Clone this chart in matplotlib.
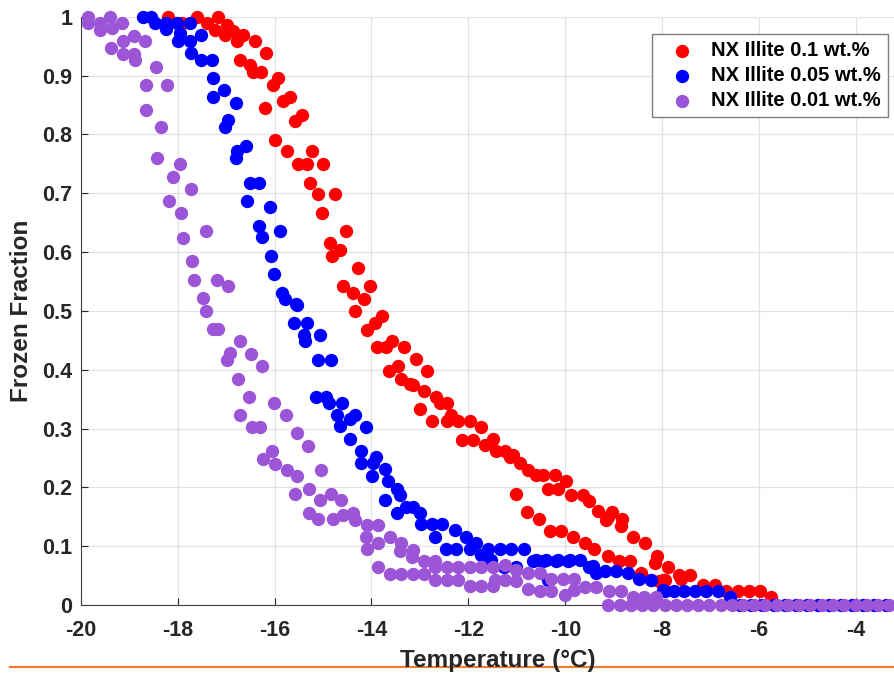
import numpy as np
import matplotlib
matplotlib.use('agg')
import matplotlib.pyplot as plt
from matplotlib.lines import Line2D

plt.rcParams['font.family'] = ['Liberation Sans', 'DejaVu Sans']
plt.rcParams['font.weight'] = 'bold'
plt.rcParams['axes.unicode_minus'] = False

# NX Illite 0.1 wt.%
temp_01 = [-18.19, -17.90, -17.61, -17.40, -17.23, -17.16, -17.03, -16.99, -16.85, -16.78,
           -16.72, -16.65, -16.51, -16.44, -16.41, -16.27, -16.20, -16.18, -16.03, -15.99,
           -15.93, -15.82, -15.75, -15.68, -15.58, -15.51, -15.44, -15.34, -15.27, -15.22,
           -15.10, -15.03, -15.00, -14.86, -14.81, -14.76, -14.64, -14.59, -14.52, -14.39,
           -14.34, -14.28, -14.16, -14.10, -14.04, -13.93, -13.88, -13.79, -13.69, -13.64,
           -13.57, -13.45, -13.38, -13.33, -13.21, -13.14, -13.09, -12.99, -12.92, -12.85,
           -12.74, -12.67, -12.59, -12.44, -12.44, -12.35, -12.21, -12.14, -11.97, -11.90,
           -11.73, -11.66, -11.49, -11.42, -11.25, -11.15, -11.08, -11.01, -10.94, -10.78,
           -10.77, -10.60, -10.55, -10.46, -10.36, -10.31, -10.22, -10.15, -10.08, -9.98,
           -9.88, -9.84, -9.64, -9.60, -9.50, -9.40, -9.33, -9.15, -9.12, -9.12,
           -9.04, -8.89, -8.85, -8.83, -8.66, -8.61, -8.43, -8.35, -8.23, -8.14,
           -8.11, -8.07, -7.99, -7.95, -7.88, -7.66, -7.61, -7.42, -7.16, -6.92,
           -6.68, -6.44, -6.21, -5.99, -5.75]
frac_01 = [1.000, 0.990, 1.000, 0.989, 0.978, 1.000, 0.969, 0.986, 0.975, 0.958,
           0.926, 0.969, 0.918, 0.906, 0.958, 0.906, 0.844, 0.938, 0.884, 0.790,
           0.895, 0.856, 0.771, 0.864, 0.822, 0.750, 0.833, 0.750, 0.718, 0.771,
           0.698, 0.666, 0.750, 0.615, 0.593, 0.698, 0.603, 0.542, 0.635, 0.531,
           0.500, 0.572, 0.520, 0.467, 0.542, 0.480, 0.438, 0.491, 0.438, 0.397,
           0.449, 0.406, 0.385, 0.438, 0.376, 0.374, 0.418, 0.334, 0.364, 0.397,
           0.312, 0.354, 0.343, 0.344, 0.312, 0.323, 0.312, 0.280, 0.313, 0.280,
           0.303, 0.272, 0.283, 0.261, 0.261, 0.252, 0.255, 0.188, 0.241, 0.158,
           0.229, 0.221, 0.146, 0.221, 0.198, 0.126, 0.221, 0.198, 0.126, 0.210,
           0.187, 0.116, 0.187, 0.106, 0.176, 0.095, 0.159, 0.144, 0.083, 0.150,
           0.158, 0.074, 0.134, 0.147, 0.074, 0.115, 0.054, 0.106, 0.042, 0.071,
           0.083, 0.040, 0.042, 0.042, 0.065, 0.051, 0.044, 0.051, 0.034, 0.034,
           0.023, 0.023, 0.023, 0.023, 0.013]

# NX Illite 0.05 wt.%
temp_005 = [-18.71, -18.54, -18.47, -18.23, -18.23, -18.02, -17.99, -17.95, -17.75, -17.75,
            -17.73, -17.51, -17.51, -17.30, -17.28, -17.27, -17.04, -17.03, -16.96, -16.80,
            -16.80, -16.78, -16.58, -16.57, -16.51, -16.32, -16.32, -16.25, -16.10, -16.08,
            -16.01, -15.88, -15.84, -15.79, -15.60, -15.56, -15.53, -15.39, -15.38, -15.32,
            -15.15, -15.11, -15.07, -14.93, -14.87, -14.84, -14.72, -14.65, -14.60, -14.45,
            -14.45, -14.34, -14.21, -14.21, -14.12, -13.98, -13.97, -13.90, -13.73, -13.71,
            -13.66, -13.48, -13.48, -13.42, -13.28, -13.14, -13.00, -12.97, -12.76, -12.69,
            -12.54, -12.47, -12.28, -12.25, -12.04, -11.97, -11.84, -11.73, -11.60, -11.53,
            -11.35, -11.27, -11.11, -11.01, -10.86, -10.67, -10.60, -10.46, -10.39, -10.36,
            -10.19, -10.15, -9.95, -9.91, -9.70, -9.50, -9.43, -9.36, -9.19, -8.95,
            -8.71, -8.47, -8.23, -7.99, -7.95, -7.75, -7.54, -7.33, -7.09, -6.85,
            -6.61, -6.40, -6.17, -5.94, -5.70, -5.47, -5.24, -5.01, -4.78, -4.55,
            -4.31, -4.08, -3.85, -3.62, -3.39]
frac_005 = [1.000, 1.000, 0.989, 0.989, 0.979, 0.989, 0.958, 0.972, 0.989, 0.958,
            0.938, 0.969, 0.926, 0.926, 0.895, 0.863, 0.875, 0.812, 0.824, 0.853,
            0.759, 0.771, 0.780, 0.687, 0.718, 0.718, 0.645, 0.625, 0.676, 0.593,
            0.563, 0.636, 0.531, 0.520, 0.479, 0.511, 0.510, 0.459, 0.448, 0.479,
            0.354, 0.416, 0.459, 0.354, 0.344, 0.416, 0.323, 0.304, 0.344, 0.316,
            0.282, 0.323, 0.261, 0.241, 0.303, 0.219, 0.241, 0.251, 0.178, 0.231,
            0.210, 0.198, 0.157, 0.187, 0.167, 0.167, 0.157, 0.138, 0.138, 0.116,
            0.138, 0.096, 0.127, 0.096, 0.116, 0.096, 0.106, 0.085, 0.096, 0.076,
            0.096, 0.065, 0.096, 0.065, 0.096, 0.074, 0.076, 0.074, 0.076, 0.042,
            0.074, 0.076, 0.074, 0.076, 0.076, 0.065, 0.066, 0.054, 0.057, 0.057,
            0.054, 0.045, 0.042, 0.025, 0.023, 0.023, 0.023, 0.023, 0.023, 0.023,
            0.014, 0.0, 0.0, 0.0, 0.0, 0.0, 0.0, 0.0, 0.0, 0.0,
            0.0, 0.0, 0.0, 0.0, 0.0]

# NX Illite 0.01 wt.%
temp_001 = [-19.84, -19.84, -19.60, -19.60, -19.40, -19.38, -19.36, -19.15, -19.13, -19.12,
            -18.90, -18.89, -18.88, -18.67, -18.65, -18.65, -18.45, -18.42, -18.35, -18.21,
            -18.17, -18.10, -17.95, -17.93, -17.88, -17.73, -17.71, -17.66, -17.47, -17.42,
            -17.42, -17.27, -17.18, -17.16, -16.99, -16.96, -16.92, -16.76, -16.72, -16.72,
            -16.53, -16.49, -16.47, -16.30, -16.25, -16.23, -16.05, -16.01, -15.99, -15.77,
            -15.75, -15.58, -15.53, -15.53, -15.31, -15.29, -15.29, -15.10, -15.07, -15.05,
            -14.83, -14.80, -14.62, -14.59, -14.38, -14.34, -14.12, -14.10, -14.10, -13.86,
            -13.86, -13.86, -13.62, -13.62, -13.42, -13.38, -13.38, -13.17, -13.14, -13.15,
            -12.92, -12.92, -12.69, -12.69, -12.69, -12.45, -12.45, -12.21, -12.21, -11.97,
            -11.97, -11.73, -11.73, -11.49, -11.49, -11.25, -11.46, -11.25, -11.01, -11.01,
            -10.77, -10.77, -10.53, -10.53, -10.29, -10.29, -10.05, -10.01, -9.81, -9.81,
            -9.60, -9.36, -9.09, -8.85, -8.61, -8.37, -8.12,
            -9.12, -8.88, -8.65, -8.42, -8.19, -7.95, -7.72, -7.49, -7.26, -7.03,
            -6.79, -6.56, -6.33, -6.10, -5.87, -5.63, -5.40, -5.17, -4.94, -4.71,
            -4.47, -4.24, -4.01, -3.78, -3.55, -3.32]
frac_001 = [1.000, 0.989, 0.989, 0.977, 1.000, 0.946, 0.981, 0.989, 0.937, 0.958,
            0.967, 0.937, 0.926, 0.958, 0.884, 0.842, 0.915, 0.759, 0.812, 0.884,
            0.687, 0.728, 0.749, 0.666, 0.624, 0.707, 0.584, 0.552, 0.521, 0.500,
            0.636, 0.469, 0.552, 0.469, 0.416, 0.542, 0.428, 0.385, 0.448, 0.323,
            0.354, 0.427, 0.302, 0.302, 0.406, 0.249, 0.261, 0.344, 0.240, 0.323,
            0.229, 0.188, 0.292, 0.219, 0.271, 0.198, 0.157, 0.146, 0.178, 0.229,
            0.188, 0.146, 0.178, 0.153, 0.157, 0.144, 0.116, 0.136, 0.096, 0.136,
            0.105, 0.064, 0.116, 0.053, 0.091, 0.105, 0.053, 0.082, 0.093, 0.053,
            0.074, 0.053, 0.074, 0.065, 0.042, 0.065, 0.042, 0.065, 0.042, 0.065,
            0.032, 0.065, 0.032, 0.065, 0.032, 0.068, 0.042, 0.042, 0.059, 0.040,
            0.054, 0.028, 0.054, 0.023, 0.045, 0.023, 0.045, 0.017, 0.045, 0.025,
            0.031, 0.031, 0.023, 0.023, 0.013, 0.013, 0.013,
            0.0, 0.0, 0.0, 0.0, 0.0, 0.0, 0.0, 0.0, 0.0, 0.0,
            0.0, 0.0, 0.0, 0.0, 0.0, 0.0, 0.0, 0.0, 0.0, 0.0,
            0.0, 0.0, 0.0, 0.0, 0.0, 0.0]

series_labels = ["NX Illite 0.1 wt.%", "NX Illite 0.05 wt.%", "NX Illite 0.01 wt.%"]
series_colours = ["#ff0000", "#0000ff", "#9b55d6"]

W, H = 894, 678
fig = plt.figure(figsize=(W / 100, H / 100), dpi=100)
# axes run off the right edge of the picture (cropped original)
ax = fig.add_axes([80.7 / W, 73 / H, 1 - 80.7 / W, 588.3 / H])

for temps, fracs, colour, label in zip([temp_01, temp_005, temp_001], [frac_01, frac_005, frac_001],
                                       series_colours, series_labels):
    ax.scatter(temps, fracs, s=92, color=colour, label=label, linewidths=0, clip_on=False, zorder=3)

ax.set_xlim([-20, -3.216])
ax.set_ylim([0, 1])
ax.set_xticks([-20, -18, -16, -14, -12, -10, -8, -6, -4])
ax.set_yticks(np.arange(0, 1.01, 0.1))
ax.set_yticklabels(["0", "0.1", "0.2", "0.3", "0.4", "0.5", "0.6", "0.7", "0.8", "0.9", "1"])
ax.tick_params(direction='in', length=5, width=0.8, colors='#262626', labelsize=15.5, labelcolor='#262626')
ax.tick_params(axis='x', pad=11)
ax.tick_params(axis='y', pad=6)
for lab in ax.get_xticklabels() + ax.get_yticklabels():
    lab.set_fontweight('bold')

ax.grid(True, color='#e2e2e2', linewidth=0.9)
ax.set_axisbelow(True)
ax.spines['top'].set_visible(False)
ax.spines['right'].set_visible(False)
ax.spines['left'].set_color('#404040')
ax.spines['bottom'].set_color('#404040')

leg = ax.legend(loc='upper right', bbox_to_anchor=(888 / W, 1 - 34 / H), bbox_transform=fig.transFigure,
                fancybox=False, edgecolor='#7f7f7f', framealpha=1, fontsize=14.5, handletextpad=0.3,
                borderpad=0.35, labelspacing=0.3, handlelength=2.3, borderaxespad=0)
leg.get_frame().set_linewidth(1.0)
for t in leg.get_texts():
    t.set_fontweight('bold')

fig.text(22 / W, 1 - 311 / H, "Frozen Fraction", rotation=90, ha='center', va='center',
         fontsize=17.5, fontweight='bold', color='#262626')

# orange rule under the figure
fig.add_artist(Line2D([10 / W, 1.0], [1 - 667 / H, 1 - 667 / H], transform=fig.transFigure,
                      color='#ed7d31', linewidth=1.6))
fig.text(498 / W, 1 - 661 / H, "Temperature (°C)", ha='center', va='center',
         fontsize=17.5, fontweight='bold', color='#262626')

plt.savefig("out.png", dpi=100)
plt.close()
